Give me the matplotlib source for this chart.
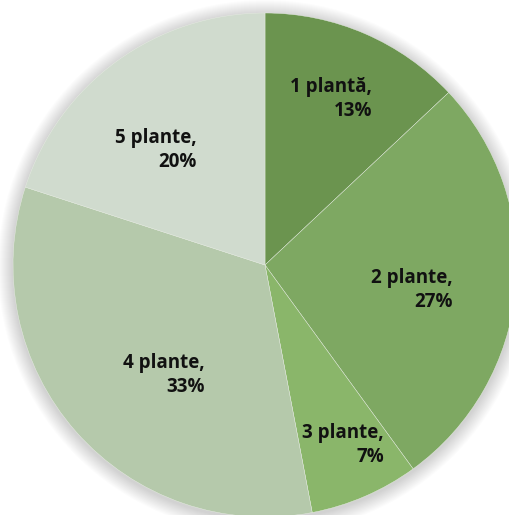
#!/usr/bin/env python3

import matplotlib
matplotlib.use("Agg")
import matplotlib.pyplot as plt
from matplotlib.patches import Circle

# date
labels = ["1 plantă", "2 plante", "3 plante", "4 plante", "5 plante"]
values = [13, 27, 7, 33, 20]
colors = ["#6b944f", "#7ea862", "#8ab66a", "#b5c9ab", "#d0dbce"]

# pozitii etichete (px, colt dreapta / centru vertical)
label_pos = [(372, 99), (453, 290), (384, 445), (205, 375), (197, 150)]

W, H = 509, 515
cx, cy, r = 265, 265, 252

fig = plt.figure(figsize=(W / 100, H / 100), dpi=100)
ax = fig.add_axes([0, 0, 1, 1])

# umbra difuza
for k in range(1, 16):
    ax.add_patch(Circle((cx, H - cy - 2), r + k, color="black",
                        alpha=0.012, lw=0, zorder=0))

ax.pie(values, colors=colors, startangle=90, counterclock=False,
       center=(cx, H - cy), radius=r, frame=True,
       wedgeprops=dict(linewidth=0.3, edgecolor="#e8eee4"))
ax.set_xlim(0, W)
ax.set_ylim(0, H)
ax.set_aspect("equal")
ax.axis("off")

for lab, v, (x, y) in zip(labels, values, label_pos):
    ax.text(x, H - y, f"{lab},\n{v}%", ha="right", va="center",
            multialignment="right", fontsize=13.5, fontweight="bold",
            family="Open Sans", color="#111111", linespacing=1.3)

fig.savefig("out.png", dpi=100)
